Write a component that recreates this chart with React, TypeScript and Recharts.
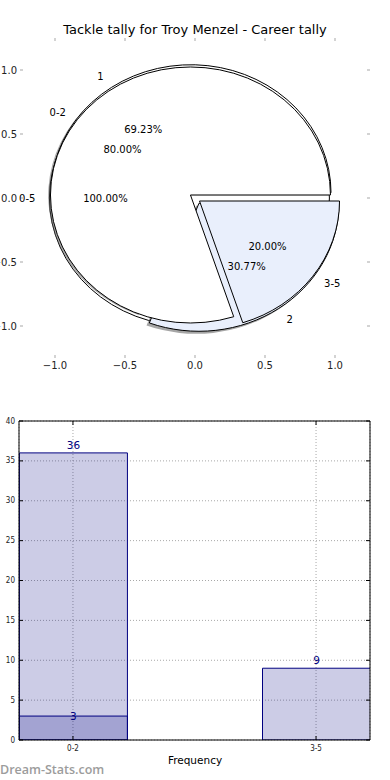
import React from 'react';
import {
  PieChart,
  Pie,
  LineChart,
  BarChart,
  Bar,
  XAxis,
  YAxis,
  CartesianGrid,
  LabelList,
} from 'recharts';

// Pie data: three pies drawn on top of each other
const totalNames = ['0-5'];
const totalValues = [45];
const seasonNames = ['1', '2'];
const seasonValues = [9, 4];
const bandNames = ['0-2', '3-5'];
const bandValues = [36, 9];

// Bar data
const barCategories = ['0-2', '3-5'];
const careerCounts = [36, 9];
const recentCounts = [3, null];

// Tick labels
const pieTicks = [-1, -0.5, 0, 0.5, 1];
const barYTicks = [0, 5, 10, 15, 20, 25, 30, 35, 40];

const totalRows = totalNames.map((name, i) => ({ name, value: totalValues[i] }));
const seasonRows = seasonNames.map((name, i) => ({ name, value: seasonValues[i] }));
const bandRows = bandNames.map((name, i) => ({ name, value: bandValues[i] }));
const tickRows = pieTicks.map((v) => ({ v }));
const barRows = barCategories.map((name, i) => ({
  pos: i,
  name,
  career: careerCounts[i],
  recent: recentCounts[i],
}));

// pie geometry (the pie axes are not square, so wedges are ellipses)
const CX = 195;
const CY = 198;
const RX = 140;
const RY = 128;
const RAD = Math.PI / 180;

const WHITE = '#ffffff';
const PALE = '#e9effc';
const NAVY = '#000080';
const FONT = '"DejaVu Sans", Verdana, sans-serif';

const wedgePath = (ox: number, oy: number, a0: number, a1: number) => {
  const pt = (a: number) => [ox + RX * Math.cos(a * RAD), oy - RY * Math.sin(a * RAD)];
  const [x0, y0] = pt(a0);
  if (a1 - a0 >= 359.99) {
    const [xm, ym] = pt(a0 + 180);
    return `M${x0},${y0} A${RX},${RY} 0 1 0 ${xm},${ym} A${RX},${RY} 0 1 0 ${x0},${y0} Z`;
  }
  const [x1, y1] = pt(a1);
  const large = a1 - a0 > 180 ? 1 : 0;
  return `M${ox},${oy} L${x0},${y0} A${RX},${RY} 0 ${large} 0 ${x1},${y1} Z`;
};

// draws the (exploded) wedge for each sector Recharts computed
const wedges = (explode: number, fills: string[] | null) => (p: any) => {
  const mid = (p.startAngle + p.endAngle) / 2;
  let ox = p.cx + explode * RX * Math.cos(mid * RAD);
  let oy = p.cy - explode * RY * Math.sin(mid * RAD);
  if (!fills) {
    // shadow
    ox -= 0.02 * RX;
    oy += 0.02 * RY;
    return <path d={wedgePath(ox, oy, p.startAngle, p.endAngle)} fill="#4d4d4d" fillOpacity={0.5} stroke="none" />;
  }
  return (
    <path
      d={wedgePath(ox, oy, p.startAngle, p.endAngle)}
      fill={fills[p.index % fills.length]}
      stroke="#000"
      strokeWidth={1}
      strokeLinejoin="round"
    />
  );
};

const pieTexts = (explode: number) => (p: any) => {
  const c = Math.cos(p.midAngle * RAD);
  const s = Math.sin(p.midAngle * RAD);
  const ox = p.cx + explode * RX * c;
  const oy = p.cy - explode * RY * s;
  return (
    <g>
      <text
        x={ox + 1.1 * RX * c}
        y={oy - 1.1 * RY * s}
        textAnchor={c > 0 ? 'start' : 'end'}
        dominantBaseline="central"
        fontSize={10}
        fontFamily={FONT}
        fill="#000"
      >
        {p.name}
      </text>
      <text
        x={ox + 0.6 * RX * c}
        y={oy - 0.6 * RY * s}
        textAnchor="middle"
        dominantBaseline="central"
        fontSize={10}
        fontFamily={FONT}
        fill="#000"
      >
        {(p.percent * 100).toFixed(2)}%
      </text>
    </g>
  );
};

const fmtPie = (v: number) => (v < 0 ? '\u2212' : '') + Math.abs(v).toFixed(1);
const TICK_GREY = '#c4c4c4';

const PieBottomTick = ({ x, y, payload }: any) => (
  <g>
    <line x1={x} y1={y} x2={x} y2={y - 3} stroke={TICK_GREY} strokeWidth={1.5} />
    <text x={x} y={y + 7} textAnchor="middle" dominantBaseline="central" fontSize={10} fontFamily={FONT} fill="#222">
      {fmtPie(payload.value)}
    </text>
  </g>
);
const PieTopTick = ({ x, y }: any) => (
  <line x1={x} y1={y} x2={x} y2={y + 3} stroke={TICK_GREY} strokeWidth={1.5} />
);
const PieLeftTick = ({ x, y, payload }: any) => (
  <g>
    <line x1={x} y1={y} x2={x + 3} y2={y} stroke={TICK_GREY} strokeWidth={1.5} />
    <text x={x - 3} y={y} textAnchor="end" dominantBaseline="central" fontSize={10} fontFamily={FONT} fill="#222">
      {fmtPie(payload.value)}
    </text>
  </g>
);
const PieRightTick = ({ x, y }: any) => (
  <line x1={x} y1={y} x2={x - 3} y2={y} stroke={TICK_GREY} strokeWidth={1.5} />
);

const BAR_FONT = '"DejaVu Sans Condensed", "DejaVu Sans", sans-serif';

const BarBottomTick = ({ x, y, payload }: any) => (
  <g>
    <line x1={x} y1={y} x2={x} y2={y - 4} stroke="#000" />
    <text x={x} y={y + 8} textAnchor="middle" dominantBaseline="central" fontSize={8} fontFamily={BAR_FONT} fill="#222">
      {barCategories[payload.value]}
    </text>
  </g>
);
const BarTopTick = ({ x, y }: any) => <line x1={x} y1={y} x2={x} y2={y + 4} stroke="#000" />;
const BarLeftTick = ({ x, y, payload }: any) => (
  <g>
    <line x1={x} y1={y} x2={x + 4} y2={y} stroke="#000" />
    <text x={x - 4} y={y} textAnchor="end" dominantBaseline="central" fontSize={8} fontFamily={BAR_FONT} fill="#222">
      {payload.value}
    </text>
  </g>
);
const BarRightTick = ({ x, y }: any) => <line x1={x} y1={y} x2={x - 4} y2={y} stroke="#000" />;

const aboveLabel = (p: any) =>
  p.value == null ? null : (
    <text x={p.x + p.width / 2} y={p.y - 4} textAnchor="middle" fontSize={10.5} fontFamily={FONT} fill={NAVY}>
      {p.value}
    </text>
  );
const onTopLabel = (p: any) =>
  p.value == null ? null : (
    <text x={p.x + p.width / 2} y={p.y} textAnchor="middle" dominantBaseline="central" fontSize={10.5} fontFamily={FONT} fill={NAVY}>
      {p.value}
    </text>
  );

const pieProps = {
  dataKey: 'value',
  nameKey: 'name',
  cx: CX,
  cy: CY,
  outerRadius: RX,
  fill: 'none',
  stroke: 'none',
  isAnimationActive: false,
  labelLine: false,
};

const pieAxis = {
  type: 'number' as const,
  dataKey: 'v',
  domain: [-1.25, 1.25],
  ticks: pieTicks,
  interval: 0,
  tickSize: 0,
  tickMargin: 0,
  axisLine: false,
  tickLine: false,
  allowDataOverflow: true,
};

const barXAxis = {
  type: 'number' as const,
  dataKey: 'pos',
  domain: [-0.222, 1.222],
  ticks: [0, 1],
  interval: 0,
  height: 1,
  tickSize: 0,
  tickMargin: 0,
  tickLine: false,
  axisLine: { stroke: '#000' },
  allowDataOverflow: true,
};

const barYAxis = {
  type: 'number' as const,
  domain: [0, 40],
  ticks: barYTicks,
  interval: 0,
  width: 1,
  tickSize: 0,
  tickMargin: 0,
  tickLine: false,
  axisLine: { stroke: '#000' },
  allowDataOverflow: true,
};

export default function App() {
  return (
    <div
      style={{
        position: 'absolute',
        left: 0,
        top: 0,
        width: 390,
        height: 780,
        background: '#fff',
        overflow: 'hidden',
        fontFamily: FONT,
      }}
    >
      {/* pie axes */}
      <div style={{ position: 'absolute', left: 0, top: 0 }}>
        <LineChart width={390} height={380} data={tickRows} margin={{ top: 37, right: 19, bottom: 21, left: 19 }}>
          <XAxis xAxisId="b" {...pieAxis} height={1} tick={PieBottomTick} />
          <XAxis xAxisId="t" orientation="top" {...pieAxis} height={1} tick={PieTopTick} />
          <YAxis yAxisId="l" {...pieAxis} width={1} tick={PieLeftTick} />
          <YAxis yAxisId="r" orientation="right" {...pieAxis} width={1} tick={PieRightTick} />
        </LineChart>
      </div>

      {/* the three pies */}
      <div style={{ position: 'absolute', left: 0, top: 0 }}>
        <PieChart width={390} height={380} margin={{ top: 0, right: 0, bottom: 0, left: 0 }}>
          <Pie {...pieProps} data={totalRows} label={wedges(0.04, [WHITE])} />
          <Pie {...pieProps} data={seasonRows} label={wedges(0.05, null)} />
          <Pie {...pieProps} data={seasonRows} label={wedges(0.05, [WHITE, PALE])} />
          <Pie {...pieProps} data={bandRows} label={wedges(0.04, [WHITE, PALE])} />
          <Pie {...pieProps} data={totalRows} label={pieTexts(0.04)} />
          <Pie {...pieProps} data={seasonRows} label={pieTexts(0.05)} />
          <Pie {...pieProps} data={bandRows} label={pieTexts(0.04)} />
        </PieChart>
      </div>

      <div
        style={{
          position: 'absolute',
          left: 0,
          top: 22,
          width: 390,
          textAlign: 'center',
          fontSize: 13,
          lineHeight: '16px',
          color: '#000',
        }}
      >
        Tackle tally for Troy Menzel - Career tally
      </div>

      {/* frequency bars */}
      <div style={{ position: 'absolute', left: 0, top: 390 }}>
        <BarChart width={390} height={390} data={barRows} margin={{ top: 30, right: 19, bottom: 39, left: 18 }}>
          <CartesianGrid xAxisId="main" yAxisId="left" stroke="#a8a8a8" strokeDasharray="1 2" />
          <XAxis xAxisId="main" {...barXAxis} tick={BarBottomTick} />
          <XAxis xAxisId="top" orientation="top" {...barXAxis} tick={BarTopTick} />
          <YAxis yAxisId="left" {...barYAxis} tick={BarLeftTick} />
          <YAxis yAxisId="right" orientation="right" {...barYAxis} tick={BarRightTick} />
          <Bar xAxisId="main" yAxisId="left" dataKey="career" barSize={108} fill={NAVY} fillOpacity={0.2} stroke={NAVY} strokeWidth={1} isAnimationActive={false}>
            <LabelList dataKey="career" content={aboveLabel} />
          </Bar>
          <Bar xAxisId="top" yAxisId="left" dataKey="recent" barSize={108} fill={NAVY} fillOpacity={0.2} stroke={NAVY} strokeWidth={1} isAnimationActive={false}>
            <LabelList dataKey="recent" content={onTopLabel} />
          </Bar>
        </BarChart>
      </div>

      <div
        style={{
          position: 'absolute',
          left: 0,
          top: 753,
          width: 390,
          textAlign: 'center',
          fontSize: 10.5,
          lineHeight: '14px',
          color: '#000',
        }}
      >
        Frequency
      </div>
      <div
        style={{
          position: 'absolute',
          left: 0,
          top: 762,
          fontFamily: '"Open Sans", sans-serif',
          fontWeight: 600,
          fontSize: 12.5,
          lineHeight: '16px',
          color: '#9c9c9c',
        }}
      >
        Dream-Stats.com
      </div>
    </div>
  );
}
